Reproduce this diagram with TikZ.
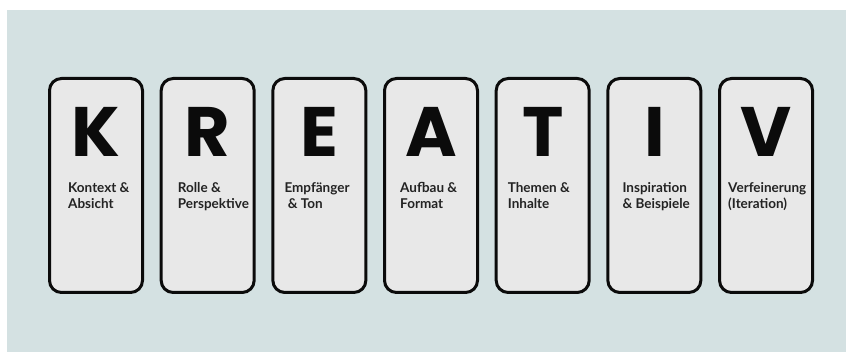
\documentclass[tikz,border=0pt]{standalone}
\usepackage{fontspec}
\setmainfont{Lato}
\newfontfamily\bigfont{Poppins}
\definecolor{bgc}{HTML}{D4E1E2}
\definecolor{cardc}{HTML}{E8E8E8}
\definecolor{inkc}{HTML}{0B0B0B}
\tikzset{
  cardbox/.style={draw=inkc, line width=3pt, fill=cardc, rounded corners=12pt,
    minimum width=93pt, minimum height=214pt, inner sep=0pt},
  bigletter/.style={anchor=base, inner sep=0pt, text=inkc,
    font=\bigfont\bfseries\fontsize{70}{70}\selectfont},
  cardlabel/.style={anchor=north west, inner sep=0pt, align=left, text=inkc!90,
    font=\bfseries\fontsize{13.5}{16.5}\selectfont}
}
\begin{document}
\begin{tikzpicture}[x=1pt,y=-1pt]
\useasboundingbox (0,0) rectangle (846,355);
\fill[white] (0,0) rectangle (846,355);
\fill[bgc] (7,10) rectangle (846,352);
\foreach \i/\L/\T/\o in {0/K/{Kontext \&\\Absicht}/20,
                         1/R/{Rolle \&\\Perspektive}/18,
                         2/E/{Empfänger\\\ \& Ton}/13,
                         3/A/{Aufbau \&\\Format}/17,
                         4/T/{Themen \&\\Inhalte}/13,
                         5/I/{Inspiration\\\& Beispiele}/16,
                         6/V/{Verfeinerung\\(Iteration)}/10}{
  \pgfmathsetmacro{\lx}{48+111.67*\i}
  \node[cardbox] (card\i) at (\lx+48,185.5) {};
  \node[bigletter] (letter\i) at (\lx+48,157) {\L};
  \node[cardlabel] (label\i) at (\lx+\o,182) {\T};
}
\end{tikzpicture}
\end{document}
